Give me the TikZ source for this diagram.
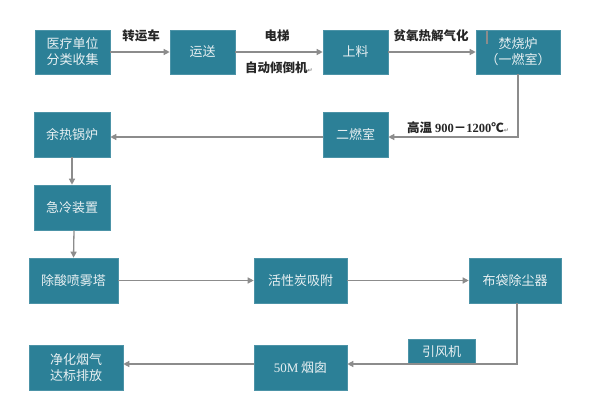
\documentclass[tikz,border=0pt]{standalone}
\usepackage{fontspec}
\setmainfont{Noto Sans CJK SC}
\newfontfamily\cjk{Noto Sans CJK SC}
\newfontfamily\numfont{Liberation Serif}
\newfontfamily\symfont{DejaVu Sans}
\usetikzlibrary{arrows.meta}
\definecolor{boxfill}{RGB}{44,128,151}
\definecolor{boxtext}{RGB}{232,240,242}
\definecolor{arrgray}{RGB}{140,140,140}
\newcommand\retmark{{\symfont\fontsize{6}{7}\selectfont\color{gray}↵}}
\tikzset{
  procbox/.style={draw=boxfill!85!white, line width=0.6pt, fill=boxfill, text=boxtext,
    font=\cjk\fontsize{13}{16}\selectfont, align=center, inner sep=0pt,
    minimum height=45pt},
  arr/.style={draw=arrgray, line width=1.3pt, -{Triangle[width=6pt,length=6pt]}},
  lbl/.style={font=\cjk\bfseries\fontsize{12.5}{15}\selectfont, text=black!85, inner sep=0pt}
}
\begin{document}
\begin{tikzpicture}[x=1pt,y=-1pt]
\useasboundingbox (0,0) rectangle (600,401);
\fill[white] (0,0) rectangle (600,401);
% top row
\node[procbox, minimum width=75pt, minimum height=44pt] (b1) at (72.5,52) {医疗单位\\分类收集};
\node[procbox, minimum width=65pt, minimum height=44pt] (b2) at (202.5,52) {运送};
\node[procbox, minimum width=65pt, minimum height=44pt] (b3) at (355.5,52) {上料};
\node[procbox, minimum width=84pt, minimum height=44pt] (b4) at (518,52) {焚烧炉\\（一燃室）};
\draw[arrgray, line width=1.2pt] (487,31) -- (487,44);
% second row
\node[procbox, minimum width=65pt] (b5) at (355.5,134.5) {二燃室};
\node[procbox, minimum width=76pt] (b6) at (72,134.5) {余热锅炉};
\node[procbox, minimum width=76pt] (b7) at (72,207.5) {急冷装置};
% third row
\node[procbox, minimum width=89pt] (b8) at (73.5,280.5) {除酸喷雾塔};
\node[procbox, minimum width=93pt] (b9) at (300.5,280.5) {活性炭吸附};
\node[procbox, minimum width=92pt] (b10) at (515,280.5) {布袋除尘器};
% bottom row
\node[procbox, minimum width=67pt, minimum height=25pt] (b11) at (441.5,351.5) {引风机};
\node[procbox, minimum width=93pt] (b12) at (300.5,367.5) {{\numfont 50M} 烟囱};
\node[procbox, minimum width=94pt] (b13) at (76,367.5) {净化烟气\\达标排放};
% connectors
\draw[arr] (b1.east) -- (b2.west);
\draw[arr] (b2.east) -- (b3.west);
\draw[arr] (b3.east) -- (b4.west);
\draw[arr] (b4.south) |- ([yshift=-2.5pt]b5.east);
\draw[arr] ([yshift=-2.5pt]b5.west) -- ([yshift=-2.5pt]b6.east);
\draw[arr] (b6.south) -- (b7.north);
\draw[arr] ([xshift=2pt]b7.south) -- (b8.north);
\draw[arr] (b8.east) -- (b9.west);
\draw[arr] (b9.east) -- (b10.west);
\draw[arr] ([xshift=2pt]b10.south) |- ([yshift=3.5pt]b12.east);
\draw[arr] ([yshift=3.5pt]b12.west) -- ([yshift=3.5pt]b13.east);
% labels
\node[lbl] (l1) at (141,36) {转运车};
\node[lbl] (l2) at (277,36) {电梯};
\node[lbl, anchor=west] (l3) at (245,68) {自动倾倒机\retmark};
\node[lbl] (l4) at (431,36) {贫氧热解气化};
\node[lbl, anchor=west] (l5) at (407,128) {高温 {\numfont\bfseries 900}－{\numfont\bfseries 1200}℃\retmark};
\end{tikzpicture}
\end{document}
